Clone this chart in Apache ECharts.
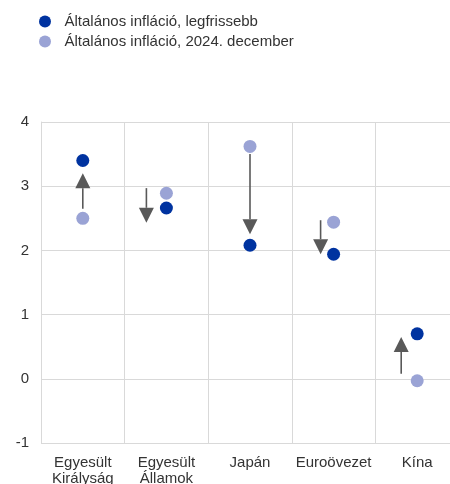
<!DOCTYPE html>
<html><head><meta charset="utf-8">
<script src="https://cdn.jsdelivr.net/npm/echarts@6/dist/echarts.min.js"></script>
<style>html,body{margin:0;padding:0;background:#fff}#c{width:450px;height:484px}</style>
</head><body><div id="c"></div>
<script>
const categories = ['Egyesült\nKirályság', 'Egyesült\nÁllamok', 'Japán', 'Euroövezet', 'Kína'];
const latest = [3.40, 2.66, 2.08, 1.94, 0.70];
const dec2024 = [2.50, 2.89, 3.62, 2.44, -0.03];
const arrowFrom = [2.65, 2.97, 3.50, 2.47, 0.08];
const arrowTo = [3.20, 2.43, 2.25, 1.94, 0.65];
const seriesNames = ['Általános infláció, legfrissebb', 'Általános infláció, 2024. december'];
const yTicks = [-1, 0, 1, 2, 3, 4];
// styling: horizontal shift of each arrow in px
const arrowShift = [0, -20, 0, -13, -16];

const chart = echarts.init(document.getElementById('c'));
const font = "'Liberation Sans', Arial, sans-serif";
chart.setOption({
  animation: false,
  legend: {
    orient: 'vertical', left: 39, top: 14, itemGap: 5, padding: 0,
    itemWidth: 29, itemHeight: 12, icon: 'circle',
    textStyle: { fontFamily: font, fontSize: 15, color: '#333' },
    data: seriesNames
  },
  grid: { left: 41, width: 418, top: 122, bottom: 41, outerBoundsMode: 'none', containLabel: false },
  xAxis: {
    type: 'category', data: categories,
    axisLine: { show: false }, axisTick: { show: false },
    splitLine: { show: true, lineStyle: { color: '#d9d9d9', width: 1 } },
    axisLabel: { fontFamily: font, fontSize: 15, color: '#333', margin: 12, lineHeight: 16, interval: 0 }
  },
  yAxis: {
    type: 'value', min: yTicks[0], max: yTicks[yTicks.length - 1], interval: 1,
    axisLine: { show: true, lineStyle: { color: '#d9d9d9' } }, axisTick: { show: false },
    splitLine: { show: true, lineStyle: { color: '#d9d9d9', width: 1 } },
    axisLabel: { fontFamily: font, fontSize: 15, color: '#333', margin: 12 }
  },
  series: [
    {
      type: 'custom', name: 'arrows', silent: true, z: 1,
      data: categories.map((c, i) => [i, arrowFrom[i], arrowTo[i]]),
      renderItem: function (params, api) {
        const i = api.value(0);
        const p1 = api.coord([i, api.value(1)]);
        const p2 = api.coord([i, api.value(2)]);
        const x = p1[0] + arrowShift[params.dataIndex];
        const dir = p2[1] < p1[1] ? -1 : 1;
        const h = 15, w = 7.5;
        const baseY = p2[1] - dir * h;
        return {
          type: 'group',
          children: [
            { type: 'line', shape: { x1: x, y1: p1[1], x2: x, y2: baseY }, style: { stroke: '#595959', lineWidth: 1.6 } },
            { type: 'polygon', shape: { points: [[x - w, baseY], [x + w, baseY], [x, p2[1]]] }, style: { fill: '#595959' } }
          ]
        };
      }
    },
    {
      type: 'scatter', name: seriesNames[1], data: dec2024, symbolSize: 13, z: 3,
      itemStyle: { color: '#9aa3d5', opacity: 1 }
    },
    {
      type: 'scatter', name: seriesNames[0], data: latest, symbolSize: 13, z: 4,
      itemStyle: { color: '#0033a0', opacity: 1 }
    }
  ]
});
</script></body></html>
